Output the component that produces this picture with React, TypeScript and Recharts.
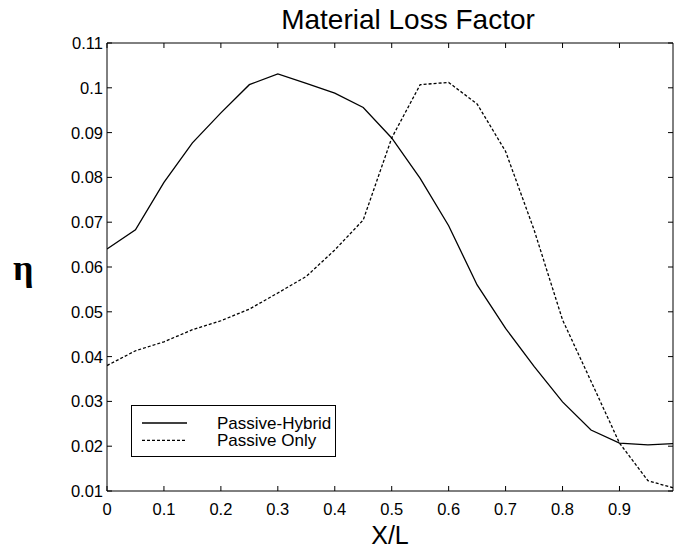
import { LineChart, Line, XAxis, YAxis, Legend } from 'recharts';

const positions = [0, 0.05, 0.1, 0.15, 0.2, 0.25, 0.3, 0.35, 0.4, 0.45, 0.5, 0.55, 0.6, 0.65, 0.7, 0.75, 0.8, 0.85, 0.9, 0.95, 1];
const passiveHybrid = [0.064, 0.0683, 0.0789, 0.0877, 0.0944, 0.1007, 0.1031, 0.101, 0.0988, 0.0956, 0.0888, 0.0798, 0.0692, 0.056, 0.0463, 0.0378, 0.0299, 0.0236, 0.0207, 0.0203, 0.0206];
const passiveOnly = [0.038, 0.0413, 0.0433, 0.046, 0.048, 0.0506, 0.0542, 0.0579, 0.0638, 0.0705, 0.0888, 0.1007, 0.1012, 0.0964, 0.0858, 0.0683, 0.0482, 0.0345, 0.0207, 0.0123, 0.0105];
const seriesNames = ['Passive-Hybrid', 'Passive Only'];

const xTicks = [0, 0.1, 0.2, 0.3, 0.4, 0.5, 0.6, 0.7, 0.8, 0.9];
const yTicks = [0.01, 0.02, 0.03, 0.04, 0.05, 0.06, 0.07, 0.08, 0.09, 0.1, 0.11];

const data = positions.map((x, i) => ({ x, hybrid: passiveHybrid[i], passive: passiveOnly[i] }));

const FONT = '"Liberation Sans", Arial, Helvetica, sans-serif';
const X_DOMAIN: [number, number] = [0, 0.994];
const Y_DOMAIN: [number, number] = [0.01, 0.11];

const W = 674;
const H = 548;
const MARGIN = { top: 42, right: 0, bottom: 0, left: 0 };
// top and right axes are 1px wide frame lines
const PLOT_TOP = MARGIN.top + 1;
const PLOT_RIGHT = W - MARGIN.right - 1;

// bottom tick: label plus inward marks on bottom and top frame
function BottomTick({ x, y, payload }: any) {
  return (
    <g>
      <line x1={x} y1={y} x2={x} y2={y - 5} stroke="#000" />
      <line x1={x} y1={PLOT_TOP} x2={x} y2={PLOT_TOP + 5} stroke="#000" />
      <text x={x} y={y + 24} textAnchor="middle" fontSize={16.5} fontFamily={FONT} fill="#000">
        {payload.value}
      </text>
    </g>
  );
}

// left tick: label plus inward marks on left and right frame
function LeftTick({ x, y, payload }: any) {
  return (
    <g>
      <line x1={x} y1={y} x2={x + 5} y2={y} stroke="#000" />
      <line x1={PLOT_RIGHT} y1={y} x2={PLOT_RIGHT - 5} y2={y} stroke="#000" />
      <text x={x - 4} y={y} dy="0.36em" textAnchor="end" fontSize={16.5} fontFamily={FONT} fill="#000">
        {payload.value}
      </text>
    </g>
  );
}

function LegendBox({ payload }: any) {
  const items = [...(payload || [])].sort(
    (a: any, b: any) => seriesNames.indexOf(a.value) - seriesNames.indexOf(b.value)
  );
  return (
    <div style={{ width: 203, height: 50, border: '1px solid #000', background: '#fff' }}>
      <svg width={203} height={50} style={{ display: 'block' }}>
        {items.map((item: any, i: number) => (
          <g key={item.value}>
            <line
              x1={10}
              x2={55}
              y1={17 + i * 17.3}
              y2={17 + i * 17.3}
              stroke="#000"
              strokeWidth={1.3}
              strokeDasharray={item.payload?.strokeDasharray}
            />
            <text x={85} y={22.5 + i * 17.3} fontSize={17} fontFamily={FONT} fill="#000">
              {item.value}
            </text>
          </g>
        ))}
      </svg>
    </div>
  );
}

export default function App() {
  return (
    <div style={{ position: 'absolute', left: 0, top: 0, width: W, height: H, background: '#fff' }}>
      <div
        style={{
          position: 'absolute',
          left: 208,
          width: 400,
          top: 6,
          textAlign: 'center',
          fontFamily: FONT,
          fontSize: 28,
          lineHeight: '28px',
          color: '#000',
        }}
      >
        Material Loss Factor
      </div>
      <LineChart width={W} height={H} data={data} margin={MARGIN}>
        <XAxis
          dataKey="x"
          type="number"
          domain={X_DOMAIN}
          allowDataOverflow
          ticks={xTicks}
          interval={0}
          tick={<BottomTick />}
          tickLine={false}
          tickSize={0}
          tickMargin={0}
          height={57}
          axisLine={{ stroke: '#000' }}
          label={{ value: 'X/L', position: 'insideBottom', offset: 4, fontSize: 25, fontFamily: FONT, fill: '#000' }}
        />
        <XAxis
          xAxisId="top"
          orientation="top"
          height={1}
          tick={false}
          tickLine={false}
          axisLine={{ stroke: '#000' }}
        />
        <YAxis
          type="number"
          domain={Y_DOMAIN}
          allowDataOverflow
          ticks={yTicks}
          interval={0}
          width={107}
          tick={<LeftTick />}
          tickLine={false}
          tickSize={0}
          tickMargin={0}
          axisLine={{ stroke: '#000' }}
          label={{
            value: 'η',
            position: 'insideLeft',
            offset: 13,
            angle: 0,
            fontSize: 36,
            fontWeight: 'bold',
            fontFamily: '"Liberation Serif", "Times New Roman", serif',
            fill: '#000',
          }}
        />
        <YAxis
          yAxisId="right"
          orientation="right"
          width={1}
          tick={false}
          tickLine={false}
          axisLine={{ stroke: '#000' }}
        />
        <Legend
          layout="horizontal"
          verticalAlign="middle"
          align="center"
          content={<LegendBox />}
          wrapperStyle={{ left: 131, top: 405, width: 205, height: 52, bottom: 'auto', right: 'auto' }}
        />
        <Line
          name="Passive-Hybrid"
          dataKey="hybrid"
          type="linear"
          stroke="#000"
          strokeWidth={1.3}
          dot={false}
          activeDot={false}
          isAnimationActive={false}
        />
        <Line
          name="Passive Only"
          dataKey="passive"
          type="linear"
          stroke="#000"
          strokeWidth={1.3}
          strokeDasharray="3 2"
          dot={false}
          activeDot={false}
          isAnimationActive={false}
        />
      </LineChart>
    </div>
  );
}
